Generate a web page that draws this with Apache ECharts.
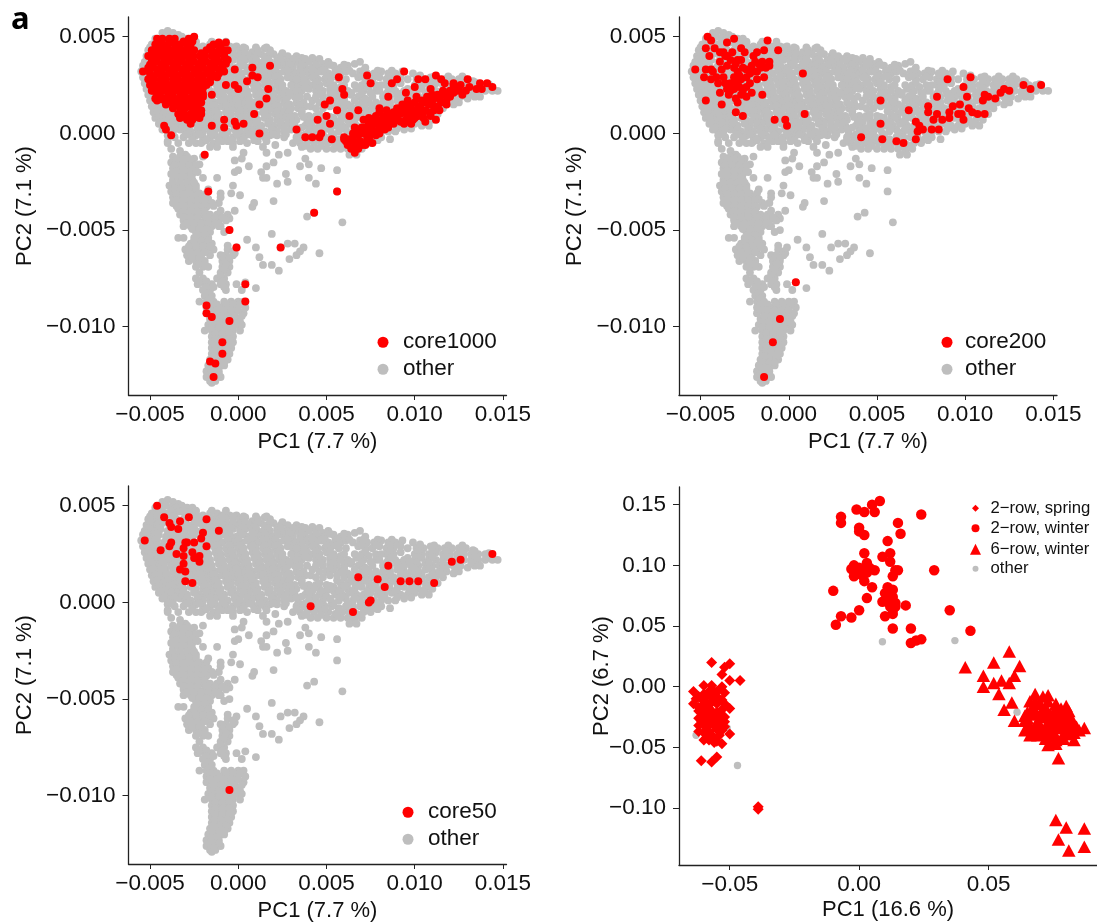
<!DOCTYPE html>
<html><head><meta charset="utf-8">
<style>html,body{margin:0;padding:0;background:#fff}#c{width:1097px;height:923px}</style>
<script src="https://cdn.jsdelivr.net/npm/echarts@6/dist/echarts.min.js"></script>
</head><body><div id="c"></div>
<script>
// Scores. Panels a-c are listed in units of 0.0001, the fourth panel in units of 0.001.
const UNIT_ALL = 1e-4, UNIT_SUB = 1e-3;
const otherAll = [
-43,52,-40,53,-37,52,-34,51,
-47,49,-44,49,-41,50,-38,49,-35,49,-32,50,-29,49,-26,49,
-49,46,-46,46,-43,47,-40,46,-36,46,-33,47,-30,46,-27,46,-24,47,-20,45,-16,46,-12,46,-9,45,-5,45,-1,45,
-51,43,-48,43,-45,43,-42,44,-38,43,-35,43,-31,43,-28,44,-25,43,-21,43,-18,43,-14,43,-11,43,-7,43,-3,42,1,43,4,44,8,42,11,43,15,44,18,43,
-52,40,-49,40,-46,40,-43,41,-39,40,-36,40,-33,41,-29,40,-26,40,-22,41,-19,40,-15,40,-12,41,-8,40,-5,40,-1,40,2,41,6,40,9,39,13,41,16,40,20,41,24,40,28,40,33,40,36,39,42,39,
-53,37,-50,37,-47,37,-44,38,-40,37,-37,37,-34,38,-30,37,-27,38,-24,37,-20,38,-17,37,-13,37,-10,38,-6,37,-3,38,1,37,4,38,8,37,11,37,15,38,18,37,22,38,26,37,29,37,33,37,37,36,40,37,44,37,48,36,51,37,
-54,35,-51,34,-48,34,-45,35,-41,34,-38,34,-35,35,-31,34,-28,34,-25,35,-21,34,-18,34,-15,35,-11,34,-8,35,-4,34,-1,34,3,35,6,34,10,34,13,35,17,34,20,34,24,35,27,34,31,34,35,35,38,34,42,34,46,34,49,34,54,35,58,34,62,35,66,36,69,37,72,34,
-55,32,-52,31,-49,31,-46,32,-42,31,-39,31,-36,32,-32,31,-29,31,-26,32,-22,31,-19,31,-16,32,-12,31,-9,31,-5,32,-2,31,2,31,5,32,9,31,12,31,16,32,19,31,23,31,26,32,30,31,33,31,37,32,40,31,44,31,47,32,51,31,55,32,58,31,61,32,65,31,69,32,73,31,77,31,81,32,85,31,89,31,93,32,99,31,103,30,
-54,29,-51,28,-48,28,-45,29,-42,28,-38,28,-35,29,-31,28,-28,28,-25,29,-21,28,-18,28,-14,29,-11,28,-7,28,-4,29,0,28,3,28,7,29,10,28,14,28,17,29,21,28,24,28,28,29,35,28,38,28,42,29,45,28,49,28,53,29,57,28,68,29,72,28,76,28,80,29,84,28,88,28,101,28,105,28,109,29,113,28,117,28,121,28,125,28,129,28,133,27,
-53,26,-50,25,-47,25,-44,26,-40,25,-37,25,-34,26,-30,25,-27,25,-24,26,-20,25,-17,25,-13,26,-10,25,-6,25,-3,26,1,25,4,25,8,26,11,25,15,25,18,26,22,25,25,25,35,25,39,26,42,25,46,25,50,26,54,25,58,24,70,25,74,24,84,25,88,25,92,26,100,25,104,25,108,25,112,26,116,25,120,25,124,25,128,25,132,25,136,25,140,25,143,24,
-52,23,-49,22,-46,22,-43,23,-39,22,-36,22,-33,23,-29,22,-26,22,-23,23,-19,22,-16,22,-12,23,-9,22,-5,22,-2,23,2,22,5,22,9,23,12,22,16,22,19,23,23,22,27,22,36,22,40,23,44,22,48,22,52,23,56,21,62,22,67,23,71,22,85,22,89,22,100,22,104,23,108,22,112,22,116,22,120,23,124,22,128,22,132,22,136,22,140,22,144,22,147,22,
-51,20,-48,19,-45,19,-42,20,-38,19,-35,19,-32,20,-28,19,-25,19,-22,20,-18,19,-15,19,-11,20,-8,19,-4,19,-1,20,3,19,6,19,10,20,13,19,17,19,20,20,24,19,28,19,39,19,48,19,52,20,56,19,60,19,64,20,68,19,72,18,82,19,86,19,90,20,94,19,98,19,102,19,106,20,110,19,114,19,118,19,122,19,126,19,130,18,134,19,137,19,
-50,17,-47,16,-44,16,-41,17,-37,16,-34,16,-31,17,-27,16,-24,16,-20,17,-17,16,-13,16,-10,17,-6,16,-3,16,1,17,4,16,8,16,11,17,15,16,18,16,22,17,26,16,29,15,33,16,37,16,50,16,54,17,58,16,62,15,70,16,74,16,78,16,86,16,90,17,94,16,98,16,102,16,106,17,110,16,114,16,118,16,122,15,125,16,
-49,14,-46,13,-43,13,-40,14,-36,13,-33,13,-29,14,-26,13,-23,13,-19,14,-16,13,-12,13,-9,14,-5,13,-2,13,2,14,5,13,9,13,12,14,16,13,19,13,23,14,27,13,30,13,34,13,38,14,41,14,60,13,68,14,72,13,76,13,80,14,84,13,88,13,92,14,96,13,100,13,104,14,108,13,112,13,116,13,
-48,11,-45,10,-42,10,-38,11,-35,10,-32,10,-28,11,-25,10,-21,10,-18,11,-14,10,-11,10,-7,11,-4,10,0,10,3,11,7,10,10,10,14,11,17,10,21,10,25,11,28,10,32,9,36,10,40,9,44,9,50,9,54,8,58,10,62,10,66,10,70,11,74,10,78,10,82,11,86,10,90,10,94,11,98,10,102,10,106,10,110,10,113,10,
-47,8,-44,7,-41,7,-37,8,-34,7,-31,7,-27,8,-24,7,-20,7,-17,8,-13,7,-10,7,-6,8,-3,7,1,7,4,8,8,7,11,7,15,8,18,7,22,7,26,8,29,7,33,7,39,7,42,6,46,7,50,6,54,6,58,7,62,7,66,7,70,8,74,7,78,7,82,8,86,7,90,7,94,8,98,7,102,7,106,7,110,7,
-45,5,-42,4,-39,4,-35,5,-32,4,-29,4,-25,5,-22,4,-18,4,-15,5,-11,4,-8,4,-4,5,-1,4,3,4,6,5,10,4,13,4,17,5,20,4,24,4,28,5,32,4,38,4,42,3,46,4,55,4,59,4,63,5,67,4,71,4,75,5,79,4,83,4,87,5,92,4,96,4,100,5,104,4,108,4,
-43,2,-40,1,-37,1,-33,2,-30,1,-27,1,-23,2,-20,1,-16,1,-13,2,-9,1,-6,1,-2,2,1,1,5,1,8,2,12,1,15,1,19,2,22,1,26,1,30,2,34,0,40,1,44,0,48,1,53,0,57,1,61,2,65,1,69,1,73,2,77,1,81,1,85,1,89,1,94,2,
-40,-1,-36,-2,-31,-2,-27,-1,-24,-1,-20,-2,-16,-2,-13,-1,-10,-2,-7,-2,-3,-2,1,-2,4,-1,8,-1,11,-2,15,-2,18,-1,22,-1,26,-2,33,-2,37,-2,41,-2,45,-3,49,-2,53,-2,57,-3,61,-2,65,-2,69,-2,73,-2,77,-3,81,-2,
-40,-4,-34,-5,-24,-5,-20,-4,-14,-5,-9,-4,-6,-4,-3,-5,1,-4,5,-5,11,-4,16,-4,31,-5,35,-5,39,-5,43,-5,47,-5,51,-5,55,-6,59,-5,63,-5,67,-6,71,-5,75,-5,86,-3,
-3,-7,-12,-7,14,-7,36,-7,41,-8,45,-8,50,-8,54,-8,58,-8,62,-8,66,-9,70,-8,63,-11,67,-11,
-40,-5,-38,-8,-33,-9,-28,-5,-21,-5,-16,-7,-30,-11,-20,-12,-2,-14,3,-10,2,-13,6,-17,21,-6,16,-10,23,-11,28,-10,20,-15,16,-17,13,-20,14,-23,16,-23,22,-26,27,-21,28,-25,35,-17,40,-16,38,-13,40,-23,44,-26,47,-18,
-2,-20,0,-19,-12,-23,-20,-23,-3,-27,-4,-31,1,-32,-17,-29,-18,-31,-10,-31,-10,-33,8,-38,9,-36,20,-35,-2,-40,-10,-40,39,-43,43,-41,-6,-42,-5,-44,-5,-50,-8,-51,-10,-48,19,-52,5,-55,10,-59,24,-59,28,-57,32,-57,37,-59,35,-61,33,-63,29,-65,12,-64,14,-68,19,-68,23,-71,46,-62,-1,-59,-6,-58,-2,-62,-1,-78,4,-77,2,-81,10,-80,56,-19,56,-30,59,-46,
-37,-12,-33,-12,-29,-12,-25,-13,-38,-15,-34,-15,-30,-15,-26,-15,-22,-16,-37,-18,-33,-18,-29,-18,-25,-18,-38,-21,-34,-21,-30,-21,-26,-21,-23,-20,-37,-24,-33,-24,-29,-24,-26,-24,-39,-27,-35,-27,-31,-27,-27,-27,-24,-27,-38,-30,-34,-30,-30,-30,-26,-30,-22,-31,-37,-33,-33,-33,-29,-33,-25,-33,-21,-33,-17,-34,-37,-36,-33,-36,-29,-36,-25,-36,-21,-36,-15,-36,-11,-36,-34,-39,-30,-39,-26,-39,-22,-39,-18,-38,-33,-42,-29,-42,-25,-42,-21,-42,-16,-42,-12,-42,-31,-45,-27,-45,-23,-45,-19,-45,-15,-45,-11,-45,-7,-45,-31,-48,-27,-48,-23,-48,-19,-48,-15,-48,-11,-48,-24,-51,-20,-51,-16,-51,
-34,-54,-31,-54,-25,-54,-21,-54,-17,-54,-27,-57,-23,-57,-19,-57,-15,-57,-30,-60,-26,-60,-22,-60,-18,-60,-14,-60,-6,-60,-3,-61,-29,-63,-25,-63,-21,-63,-16,-63,-10,-63,-7,-63,-3,-63,-28,-66,-24,-66,-19,-66,-9,-66,-5,-66,-24,-69,-20,-69,-17,-69,-9,-69,-5,-69,-22,-72,-10,-72,-6,-72,-24,-75,-20,-75,-12,-75,-8,-75,-23,-78,-19,-78,-15,-78,-10,-78,-7,-78,-20,-81,-16,-81,-7,-81,-19,-84,-15,-84,
-22,-87,-18,-87,-14,-87,-8,-87,-4,-87,0,-87,3,-87,-18,-90,-14,-90,-9,-90,-5,-90,-1,-90,4,-90,-18,-93,-14,-93,-10,-93,-6,-93,-2,-93,3,-93,-16,-96,-12,-96,-8,-96,-4,-96,0,-96,-17,-99,-13,-99,-9,-99,-5,-99,-1,-99,2,-99,-19,-102,-15,-102,-11,-102,-7,-102,-3,-102,1,-102,-15,-105,-11,-105,-7,-105,-3,-105,-15,-108,-11,-108,-7,-108,-3,-108,-15,-111,-11,-111,-7,-111,-4,-111,-15,-114,-12,-114,-8,-114,-5,-114,-16,-117,-12,-117,-9,-117,-6,-117,-17,-120,-13,-120,-10,-120,-8,-120,-18,-123,-14,-123,-11,-123,-18,-126,-15,-126,-12,-126,-10,-126,-16,-128,-13,-128
];
const otherAllDense = [
-45,47.5,-38,47.5,-31,47.5,-24,47.5,-15,47.5,-7,47.5,
-50,44.5,-44,44.5,-37,44.5,-30,44.5,-23,44.5,-16,44.5,-9,44.5,-3,44.5,3,44.5,10,44.5,16,44.5,
-50,41.5,-44,41.5,-37,41.5,-30,41.5,-23,41.5,-17,41.5,-10,41.5,-3,41.5,4,41.5,11,41.5,18,41.5,25,41.5,
-51,38.5,-45,38.5,-38,38.5,-32,38.5,-25,38.5,-18,38.5,-11,38.5,-4,38.5,3,38.5,10,38.5,17,38.5,24,38.5,31,38.5,38,38.5,46,38.5,
-52,35.5,-46,35.5,-39,35.5,-33,35.5,-26,35.5,-19,35.5,-12,35.5,-5,35.5,2,35.5,8,35.5,15,35.5,22,35.5,29,35.5,36,35.5,44,35.5,52,35.5,60,35.5,
-53,32.5,-47,32.5,-40,32.5,-34,32.5,-27,32.5,-20,32.5,-13,32.5,-6,32.5,0,32.5,7,32.5,14,32.5,21,32.5,28,32.5,35,32.5,42,32.5,49,32.5,56,32.5,63,32.5,71,32.5,79,32.5,87,32.5,
-52,29.5,-46,29.5,-40,29.5,-33,29.5,-26,29.5,-19,29.5,-12,29.5,-5,29.5,1,29.5,8,29.5,15,29.5,22,29.5,36,29.5,43,29.5,50,29.5,56,29.5,70,29.5,78,29.5,86,29.5,103,29.5,111,29.5,119,29.5,127,29.5,
-51,26.5,-45,26.5,-38,26.5,-32,26.5,-25,26.5,-18,26.5,-11,26.5,-4,26.5,3,26.5,10,26.5,16,26.5,23,26.5,37,26.5,44,26.5,52,26.5,72,26.5,86,26.5,102,26.5,110,26.5,118,26.5,126,26.5,134,26.5,142,25.5,
-50,23.5,-44,23.5,-37,23.5,-31,23.5,-24,23.5,-17,23.5,-10,23.5,-3,23.5,4,23.5,11,23.5,18,23.5,25,23.5,38,23.5,46,23.5,54,23.5,69,23.5,87,23.5,102,23.5,110,23.5,118,23.5,126,23.5,134,23.5,142,23.5,
-49,20.5,-43,20.5,-36,20.5,-30,20.5,-23,20.5,-16,20.5,-9,20.5,-2,20.5,5,20.5,12,20.5,19,20.5,26,20.5,46,20.5,54,20.5,62,20.5,70,20.5,84,20.5,92,20.5,101,20.5,108,20.5,116,20.5,124,20.5,132,20.5,
-48,17.5,-42,17.5,-35,17.5,-29,17.5,-22,17.5,-15,17.5,-8,17.5,-1,17.5,6,17.5,13,17.5,20,17.5,27,17.5,52,17.5,60,17.5,72,17.5,84,17.5,92,17.5,100,17.5,108,17.5,116,17.5,123,17.5,
-47,14.5,-41,14.5,-34,14.5,-28,14.5,-21,14.5,-14,14.5,-7,14.5,0,14.5,7,14.5,14,14.5,21,14.5,28,14.5,35,14.5,70,14.5,78,14.5,86,14.5,94,14.5,102,14.5,110,14.5,115,14.5,
-46,11.5,-40,11.5,-33,11.5,-27,11.5,-20,11.5,-13,11.5,-6,11.5,1,11.5,8,11.5,15,11.5,22,11.5,29,11.5,36,11.5,56,11.5,64,11.5,72,11.5,80,11.5,88,11.5,96,11.5,104,11.5,111,11.5,
-45,8.5,-39,8.5,-32,8.5,-26,8.5,-19,8.5,-12,8.5,-5,8.5,2,8.5,9,8.5,16,8.5,23,8.5,30,8.5,37,8.5,44,8.5,52,8.5,60,8.5,68,8.5,76,8.5,84,8.5,92,8.5,100,8.5,108,8.5,
-44,5.5,-38,5.5,-31,5.5,-25,5.5,-18,5.5,-11,5.5,-4,5.5,3,5.5,10,5.5,17,5.5,24,5.5,31,5.5,40,5.5,48,5.5,57,5.5,65,5.5,73,5.5,81,5.5,89,5.5,97,5.5,105,5.5,
-42,2.5,-36,2.5,-29,2.5,-23,2.5,-16,2.5,-9,2.5,-2,2.5,5,2.5,12,2.5,19,2.5,26,2.5,33,2.5,44,2.5,58,2.5,66,2.5,74,2.5,82,2.5,90,2.5,98,2.5,
-38,-0.5,-29,-0.5,-22,-0.5,-15,-0.5,-8,-0.5,-1,-0.5,6,-0.5,13,-0.5,20,-0.5,27,-0.5,38,-0.5,46,-0.5,54,-0.5,62,-0.5,70,-0.5,78,-0.5,
-26,-3.5,-18,-3.5,-11,-3.5,-4,-3.5,3,-3.5,9,-3.5,33,-3.5,41,-3.5,49,-3.5,57,-3.5,65,-3.5,73,-3.5,79,-3.5,
38,-6.5,47,-6.5,56,-6.5,64,-6.5,68,-6.5,
31,28,32,25,31,22,32,19,33,22,30,25,29,21,33,28,35,19,
61,28,60,25,66,25,58,22,64,21,59,16,66,17,64,14,56,14,52,14,48,13,44,13,46,16,42,17,44,19,
78,25,81,25,78,22,75,21,80,22,82,16,76,19,96,28,92,29,96,23,94,22,97,21,36,3,50,3,52,2,46,10,
-35,-13.5,-31,-13.5,-27,-13.5,-36,-16.5,-32,-16.5,-28,-16.5,-24,-16.5,-35,-19.5,-31,-19.5,-27,-19.5,-24,-19.5,-35,-22.5,-31,-22.5,-27,-22.5,-37,-25.5,-33,-25.5,-29,-25.5,-25,-25.5,-36,-28.5,-32,-28.5,-28,-28.5,-24,-28.5,-35,-31.5,-31,-31.5,-27,-31.5,-23,-31.5,-35,-34.5,-31,-34.5,-27,-34.5,-23,-34.5,-19,-34.5,-35,-37.5,-31,-37.5,-27,-37.5,-23,-37.5,-19,-37.5,-14,-37.5,-31,-40.5,-27,-40.5,-23,-40.5,-19,-40.5,-31,-43.5,-27,-43.5,-23,-43.5,-18,-43.5,-13,-43.5,-9,-43.5,-29,-46.5,-25,-46.5,-21,-46.5,-17,-46.5,-13,-46.5,-26,-49.5,-22,-49.5,-18,-49.5,-23,-52.5,-19,-52.5,-25,-55.5,-21,-55.5,-17,-55.5,-28,-58.5,-24,-58.5,-20,-58.5,-16,-58.5,-27,-61.5,-23,-61.5,-19,-61.5,-26,-64.5,-22,-64.5,-8,-64.5,-5,-64.5,-22,-67.5,-19,-67.5,-7,-67.5,-8,-70.5,-10,-73.5,-22,-76.5,-18,-76.5,-9,-76.5,-18,-79.5,-14,-79.5,-8,-79.5,-17,-82.5,-16,-85.5,
-16,-88.5,-12,-88.5,-7,-88.5,-3,-88.5,1,-88.5,-16,-91.5,-12,-91.5,-8,-91.5,-4,-91.5,0,-91.5,-14,-94.5,-10,-94.5,-6,-94.5,-2,-94.5,2,-94.5,-15,-97.5,-11,-97.5,-7,-97.5,-3,-97.5,1,-97.5,-15,-100.5,-11,-100.5,-7,-100.5,-3,-100.5,-13,-103.5,-9,-103.5,-5,-103.5,-13,-106.5,-9,-106.5,-5,-106.5,-13,-109.5,-9,-109.5,-5,-109.5,-13,-112.5,-10,-112.5,-6,-112.5,-14,-115.5,-10,-115.5,-7,-115.5,-15,-118.5,-11,-118.5,-8,-118.5,-15,-121.5,-12,-121.5,-16,-124.5,-13,-124.5,-11,-124.5,-14,-127,-15,-129
];
const core1000 = [
-46,49,-43,49,-39,49,-36,49,-28,49,-25,50,-47,46,-43,46,-40,46,-36,46,-33,46,-30,47,-27,46,-14,46,-11,47,-7,47,
-49,43,-45,43,-42,43,-38,43,-35,43,-31,43,-28,43,-25,43,-18,43,-15,43,-11,43,-8,43,-6,43,
-51,40,-47,40,-44,40,-40,40,-37,40,-33,40,-30,40,-26,40,-22,40,-19,40,-15,40,-12,40,-8,40,-6,38,
-49,37,-46,37,-42,37,-39,37,-35,37,-32,37,-28,37,-25,37,-21,37,-18,37,-14,37,-11,37,-7,36,
-51,34,-48,34,-44,34,-41,34,-37,34,-34,34,-30,34,-27,34,-23,34,-20,34,-16,34,-13,34,-9,34,
-54,32,-50,31,-46,31,-43,31,-39,31,-36,31,-32,31,-29,31,-25,31,-22,31,-18,31,-15,31,-11,31,-8,32,
-51,28,-48,28,-44,28,-41,28,-37,28,-34,28,-30,28,-27,28,-23,28,-20,28,-16,28,-12,29,
-50,25,-46,25,-43,25,-39,25,-36,25,-32,25,-29,25,-25,25,-22,25,-18,25,
-49,22,-45,22,-42,22,-38,22,-35,22,-31,22,-28,22,-24,22,-21,22,-48,22,
-47,18,-44,19,-40,19,-37,19,-33,19,-30,19,-26,19,-23,19,-20,19,-15,20,
-46,17,-41,15,-39,16,-35,16,-32,16,-28,16,-25,16,-21,16,-37,13,-33,13,-30,13,-26,13,-23,13,-21,12,
-34,10,-31,10,-27,10,-24,10,-21,10,-33,8,-29,7,-26,7,-22,8,-27,5,
-44,47.5,-38,47.5,-31,47.5,-26,47.5,-46,44.5,-41,44.5,-34,44.5,-29,44.5,-16,44.5,-10,44.5,-48,41.5,-42,41.5,-35,41.5,-28,41.5,-21,41.5,-14,41.5,-8,41.5,-48,38.5,-41,38.5,-34,38.5,-27,38.5,-20,38.5,-13,38.5,-7,38.5,-50,35.5,-43,35.5,-36,35.5,-29,35.5,-22,35.5,-15,35.5,-9,35.5,-51,32.5,-45,32.5,-38,32.5,-31,32.5,-24,32.5,-17,32.5,-10,32.5,-49,29.5,-42,29.5,-35,29.5,-28,29.5,-21,29.5,-14,29.5,-49,26.5,-42,26.5,-35,26.5,-28,26.5,-21,26.5,-16,26.5,-47,23.5,-40,23.5,-33,23.5,-26,23.5,-20,23.5,-46,20.5,-39,20.5,-32,20.5,-25,20.5,-20,20.5,-43,17.5,-36,17.5,-29,17.5,-23,17.5,-35,14.5,-28,14.5,-23,14.5,-32,11.5,-25,11.5,-22,11.5,-30,8.5,-24,8.5,
-42,4,-41,2,-38,-1,-15,4,-8,7,-8,3,-2,6,-1,4,3,5,12,0,9,10,12,15,16,18,17,23,5,27,-2,25,0,23,-7,25,-2,33,8,34,8,30,11,29,18,35,
33,2,38,-2,42,-2,46,-2,47,0,53,-3,60,-2,45,7,50,9,52,5,49,15,52,17,56,12,63,9,68,12,57,29,59,23,60,20,73,30,75,26,85,19,87,26,90,28,94,32,95,21,100,24,102,28,106,28,109,23,112,30,115,28,117,26,122,26,130,28,137,26,135,23,138,23,141,26,144,24,
60,-3,62,-6,64,-8,66,-10,68,-8,63,-3,66,-5,69,-4,72,-6,74,-3,76,-5,65,0,68,-1,71,0,66,3,70,3,73,1,75,-1,78,-1,80,0,74,5,77,5,80,3,83,2,71,7,75,7,79,6,82,5,85,3,78,9,82,8,85,6,88,5,80,11,86,10,89,8,92,6,84,12,80,13,89,10,92,10,95,7,98,5,90,13,94,12,97,10,100,8,93,15,97,14,100,12,103,10,106,6,96,17,100,16,103,14,106,12,109,9,112,7,101,19,104,17,108,15,111,12,114,12,107,19,111,18,115,16,118,15,110,20,113,20,117,20,120,19,116,22,120,22,124,22,127,20,122,25,126,25,131,24,129,22,
61,-4,65,-3,67,-7,70,-6,73,-3,68,2,72,3,76,2,79,1,74,8,78,7,81,6,84,5,83,9,87,8,90,7,94,5,88,11,92,12,96,9,99,7,95,13,99,11,102,9,105,8,98,15,102,13,105,11,109,11,106,16,110,15,113,14,109,18,114,18,118,17,118,21,122,21,125,23,
-5,-50,-1,-59,24,-59,4,-78,4,-87,-18,-89,-18,-93,-15,-95,-5,-97,-9,-108,-9,-114,-16,-118,-13,-119,-14,-126,-19,-11,-17,-30,56,-30,43,-41
];
const core200 = [
-53,33,-46,50,-44,48,-31,49,-47,44,-35,47,-42,44,-27,44,-25,42,-45,40,-12,48,-6,43,-18,42,-14,43,-39,42,-36,40,-32,42,-39,37,-29,38,-27,38,-11,35,-11,37,-15,37,-19,37,-21,35,-16,34,-24,33,-20,32,-35,35,-31,34,-29,32,-47,33,-44,33,-48,29,-44,28,-41,29,-37,29,-43,32,-14,29,-18,28,-22,26,-31,29,-27,28,-29,26,-35,23,-39,21,-31,23,-26,22,-21,21,-24,24,-34,20,-30,18,-15,20,-47,17,-38,15,-30,11,-26,9,-29,16,8,31,9,10,-8,7,-2,7,-1,4,
-35,40,-33,38,-37,42,-30,36,-26,34,-28,30,-24,29,-22,31,-18,32,-13,34,-17,36,-20,40,-38,33,-40,26,-36,26,-33,26,-33,22,-28,24,-27,20,-24,19,
52,17,68,12,52,5,41,-2,53,-3,61,-4,65,-5,72,-3,73,1,74,4,72,6,76,2,81,2,85,2,82,7,84,10,87,7,91,8,79,14,79,11,84,19,90,28,103,29,99,24,101,19,93,14,97,15,91,11,96,10,99,7,98,10,102,13,104,11,107,10,111,10,111,20,110,17,113,19,117,18,120,21,122,23,125,22,133,25,137,23,143,25,4,-77,-5,-96,-9,-108,-14,-126
];
const core50 = [
-53,32,-46,50,-42,44,-39,41,-38,39,-34,38,-33,42,-28,44,-18,43,-11,37,-20,36,-21,33,-18,29,-25,31,-29,31,-30,31,-31,28,-38,31,-39,29,-44,27,-35,25,-31,24,-26,26,-25,23,-22,24,-22,21,-23,23,-31,20,-33,17,-30,16,-30,11,-26,10,
41,-2,65,-5,74,0,75,1,68,13,79,12,83,8,85,19,92,11,97,11,102,11,111,10,121,21,126,22,144,25,-5,-97
];
const subOther = [9,37,37,38,-47,-65,61,-21,-63,-40,-51,-34];
const subSpring = [
-57,20,-50,19,-52,16,-53,10,-50,5,-46,5,-64,-4,-60,1,-57,1,-53,0,-55,-4,-62,-8,-58,-4,-56,-4,-60,-12,-64,-14,-53,-11,-55,-14,-50,-18,-58,-18,-60,-21,-55,-21,-53,-19,-62,-26,-59,-28,-56,-25,-54,-25,-52,-29,-62,-32,-59,-34,-56,-32,-54,-32,-62,-37,-60,-44,-58,-40,-56,-42,-50,-39,-53,-47,-55,-58,-57,-62,-61,-61,-39,-99,-39,-101,
-57,-9,-60,-6,-55,-8,-62,-17,-57,-13,-52,-5,-61,-22,-58,-24,-57,-29,-60,-31,-55,-35,-58,-37,-53,-36,-61,-28,-55,-28,-56,-46,-58,-44,
-59,-8,-55,-11,-52,-14,-58,-15,-62,-20,-59,-21,-57,-20,-60,-25,-58,-31,-55,-31,-52,-33,-60,-38,-57,-40,-54,-40,-59,-42,-55,-45,-52,-25,-63,-10,-60,-15
];
const subWinter2 = [
8,153,5,150,6,144,-1,146,2,144,-7,140,-7,135,24,142,0,131,0,128,2,125,15,135,16,126,11,120,2,110,12,110,9,107,12,103,14,96,15,96,13,91,6,96,3,102,-2,100,-3,97,0,96,2,96,4,98,-2,91,1,92,2,87,3,94,0,98,29,96,-10,79,5,82,3,73,0,63,-7,58,-3,57,-9,51,11,82,13,80,10,77,13,74,11,73,9,70,14,69,12,66,14,66,13,63,13,60,18,67,10,58,13,48,20,48,35,63,43,46,24,39,22,38,20,36
];
const subWinter6 = [
58,29,41,16,52,20,62,17,48,9,60,9,55,5,52,3,58,3,48,0,54,-6,59,-13,56,-19,60,-28,68,-6,71,-8,73,-7,66,-12,76,-14,80,-16,81,-20,65,-21,71,-19,76,-21,64,-28,67,-23,72,-25,78,-23,82,-26,87,-34,83,-32,64,-36,67,-37,66,-32,69,-32,72,-33,75,-30,79,-32,81,-39,75,-37,79,-39,83,-44,73,-48,76,-47,74,-41,77,-59,69,-28,74,-28,80,-28,72,-17,67,-17,78,-18,74,-23,70,-25,65,-26,76,-28,78,-28,82,-36,85,-36,77,-34,80,-34,66,-40,69,-40,74,-34,76,-41,72,-43,
68,-12,70,-14,73,-12,76,-18,70,-22,68,-20,64,-24,72,-21,79,-21,74,-31,71,-36,77,-30,81,-30,84,-33,79,-43,76,-44,70,-38,73,-38,83,-38,66,-35,68,-34,
76,-110,80,-116,87,-117,77,-126,87,-132,81,-135
];
const xTicksAll = [-0.005, 0, 0.005, 0.010, 0.015];
const yTicksAll = [-0.010, -0.005, 0, 0.005];
const xTicksSub = [-0.05, 0, 0.05];
const yTicksSub = [-0.10, -0.05, 0, 0.05, 0.10, 0.15];

const RED = '#ff0000', GREY = '#bebebe';
const FONT = '"Liberation Sans", Arial, sans-serif';
const TICK_FS = 22.5, NAME_FS = 22;
const toPoints = (flat, unit) => {
  const out = [];
  for (let i = 0; i + 1 < flat.length; i += 2) out.push([flat[i] * unit, flat[i + 1] * unit]);
  return out;
};
const fmt = d => v => v.toFixed(d).replace('-', '\u2212');

const panels = [
  {left:128.5, top:17,  w:378, h:378, xr:[-0.00622,0.0152], yr:[-0.01353,0.00602], xt:xTicksAll, yt:yTicksAll, d:3, xn:'PC1 (7.7 %)', yn:'PC2 (7.1 %)'},
  {left:679,   top:17,  w:378, h:378, xr:[-0.00622,0.0152], yr:[-0.01353,0.00602], xt:xTicksAll, yt:yTicksAll, d:3, xn:'PC1 (7.7 %)', yn:'PC2 (7.1 %)'},
  {left:128.5, top:486,w:378,h:378, xr:[-0.00622,0.0152], yr:[-0.01353,0.00602], xt:xTicksAll, yt:yTicksAll, d:3, xn:'PC1 (7.7 %)', yn:'PC2 (7.1 %)'},
  {left:679,   top:487, w:418, h:378, xr:[-0.0696,0.0919],  yr:[-0.147,0.1646],    xt:xTicksSub, yt:yTicksSub, d:2, xn:'PC1 (16.6 %)', yn:'PC2 (6.7 %)'}
];
const axisBase = {
  type:'value', nameLocation:'middle', nameMoveOverlap:false, splitLine:{show:false},
  nameTextStyle:{fontFamily:FONT,fontSize:NAME_FS,color:'#111'},
  axisLine:{show:true,onZero:false,lineStyle:{color:'#222',width:1.3}}
};
const grid = panels.map(p => ({left:p.left,top:p.top,width:p.w,height:p.h,containLabel:false,outerBoundsMode:'none'}));
const xAxis = panels.map((p,i) => Object.assign({}, axisBase, {
  gridIndex:i,min:p.xr[0],max:p.xr[1],name:p.xn,nameGap:i===3?34:36,
  axisTick:{show:true,length:5,customValues:p.xt,lineStyle:{color:'#222',width:1}},
  axisLabel:{show:true,customValues:p.xt,formatter:fmt(p.d),fontFamily:FONT,fontSize:TICK_FS,color:'#111',margin:8,hideOverlap:false}
}));
const yAxis = panels.map((p,i) => Object.assign({}, axisBase, {
  gridIndex:i,min:p.yr[0],max:p.yr[1],name:p.yn,nameGap:i===3?66:93,
  axisTick:{show:true,length:6,customValues:p.yt,lineStyle:{color:'#222',width:1}},
  axisLabel:{show:true,customValues:p.yt,formatter:fmt(p.d),fontFamily:FONT,fontSize:TICK_FS,color:'#111',margin:13,hideOverlap:false,padding:[2,0,0,0]}
}));
const scatter = (name,flat,unit,i,color,size,symbol) => ({
  type:'scatter',name,xAxisIndex:i,yAxisIndex:i,data:toPoints(flat,unit),symbol:symbol||'circle',symbolSize:size,
  itemStyle:{color,opacity:1},animation:false,progressive:0,large:false,silent:true
});
const otherCloud = otherAll.concat(otherAllDense);
const series = [
  scatter('other',otherCloud,UNIT_ALL,0,GREY,7.8), scatter('core1000',core1000,UNIT_ALL,0,RED,8),
  scatter('other',otherCloud,UNIT_ALL,1,GREY,7.8), scatter('core200',core200,UNIT_ALL,1,RED,8),
  scatter('other',otherCloud,UNIT_ALL,2,GREY,7.8), scatter('core50',core50,UNIT_ALL,2,RED,8),
  scatter('other',subOther,UNIT_SUB,3,GREY,7.4),
  scatter('2\u2212row, spring',subSpring,UNIT_SUB,3,RED,11,'diamond'),
  scatter('2\u2212row, winter',subWinter2,UNIT_SUB,3,RED,10.5),
  scatter('6\u2212row, winter',subWinter6,UNIT_SUB,3,RED,[13.5,12.5],'triangle')
];
// legend rows: label, icon centre x, row centre y, icon size, text size, text x
const legendRows = [
  ['core1000',383,342,11,22.5,403],['other',383,369,11,22.5,403],
  ['core200',947,342,11,22.5,965],['other',947,369,11,22.5,965],
  ['core50',408,812,11,22.5,428],['other',408,839,11,22.5,428],
  ['2\u2212row, spring',975.5,508,7,16.7,990.5],['2\u2212row, winter',975.5,528,8,16.7,990.5],
  ['6\u2212row, winter',975.5,549,11,16.7,990.5],['other',975.5,568.5,6,16.7,990.5]
];
const legend = legendRows.map(([label,cx,cy,size,fs,tx]) => ({
  data:[label],orient:'vertical',left:cx-size/2,top:cy-fs/2,itemWidth:size,itemHeight:size,padding:0,selectedMode:false,
  textStyle:{fontFamily:FONT,fontSize:fs,color:'#111',padding:[0,0,0,tx-(cx+size/2)-5]}
}));
const chart = echarts.init(document.getElementById('c'),null,{renderer:'canvas'});
chart.setOption({
  backgroundColor:'#fff',animation:false,
  title:{text:'a',left:11,top:5,padding:0,textStyle:{fontFamily:'"Noto Sans", sans-serif',fontWeight:'bold',fontSize:31,color:'#000'}},
  grid,xAxis,yAxis,series,legend
});
</script></body></html>
